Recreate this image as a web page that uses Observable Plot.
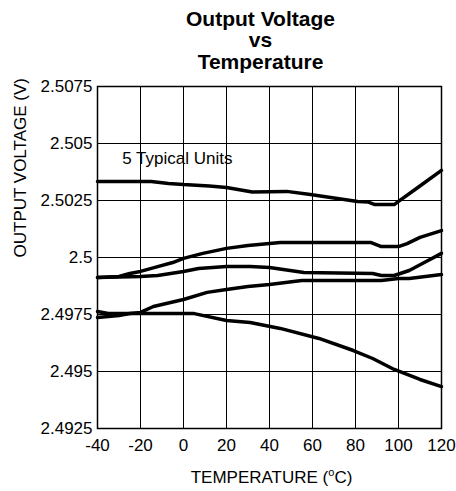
<!DOCTYPE html>
<html><head><meta charset="utf-8">
<script src="https://cdn.jsdelivr.net/npm/d3@7"></script>
<script src="https://cdn.jsdelivr.net/npm/@observablehq/plot@0.6"></script>
<style>html,body{margin:0;padding:0;background:#fff;} svg{display:block}</style>
</head><body><div id="chart"></div>
<script>
const titleText = "Output Voltage\nvs\nTemperature";
const xLabel = "TEMPERATURE (oC)";
const yLabel = "OUTPUT VOLTAGE (V)";
const noteText = "5 Typical Units";
const noteTemp = -28.5;
const noteVolt = 2.50408;

const xTicks = [-40, -20, 0, 20, 40, 60, 80, 100, 120];
const xTickLabels = ["-40", "-20", "0", "20", "40", "60", "80", "100", "120"];
const yTicks = [2.4925, 2.495, 2.4975, 2.5, 2.5025, 2.505, 2.5075];
const yTickLabels = ["2.4925", "2.495", "2.4975", "2.5", "2.5025", "2.505", "2.5075"];

const unitATemps = [-40, -15, -7, 0, 12, 20, 32, 48, 59, 81, 86, 89, 98, 100, 109, 120];
const unitAVolts = [2.50333, 2.50333, 2.50325, 2.5032, 2.50314, 2.50307, 2.50287, 2.5029, 2.50276, 2.50246, 2.50243, 2.50232, 2.50232, 2.50246, 2.50307, 2.50382];

const unitBTemps = [-40, -30, -25, -20, -12, -5, 0, 9, 20, 30, 45, 87, 92, 100, 104, 110, 120];
const unitBVolts = [2.49912, 2.49917, 2.4993, 2.49939, 2.4996, 2.49978, 2.49996, 2.50018, 2.5004, 2.50053, 2.50066, 2.50066, 2.50048, 2.50048, 2.50061, 2.50088, 2.50118];

const unitCTemps = [-40, -20, -12, 0, 7, 20, 31, 40, 56, 88, 92, 98, 105, 112, 120];
const unitCVolts = [2.49912, 2.49917, 2.49921, 2.49939, 2.49952, 2.49961, 2.49961, 2.49956, 2.49934, 2.4993, 2.49921, 2.49921, 2.49943, 2.49978, 2.50018];

const unitDTemps = [-40, -30, -25, -20, -14, 0, 11, 20, 30, 40, 55, 92, 100, 105, 120];
const unitDVolts = [2.49737, 2.49746, 2.49754, 2.49759, 2.49785, 2.49816, 2.49847, 2.4986, 2.49873, 2.49882, 2.49899, 2.49899, 2.49908, 2.49908, 2.49925];

const unitETemps = [-40, -35, -30, -20, 5, 20, 31, 45, 63, 79, 88, 98, 110, 120];
const unitEVolts = [2.49763, 2.49754, 2.49754, 2.49754, 2.49754, 2.49724, 2.49715, 2.49689, 2.49645, 2.49592, 2.49557, 2.49509, 2.49465, 2.49434];

const units = [
  {name: "A", t: unitATemps, v: unitAVolts},
  {name: "B", t: unitBTemps, v: unitBVolts},
  {name: "C", t: unitCTemps, v: unitCVolts},
  {name: "D", t: unitDTemps, v: unitDVolts},
  {name: "E", t: unitETemps, v: unitEVolts}
];
const rows = units.flatMap(u => u.t.map((t, j) => ({unit: u.name, temp: t, volt: u.v[j]})));

const chart = Plot.plot({
  width: 456,
  height: 491,
  marginLeft: 97,
  marginRight: 15,
  marginTop: 86,
  marginBottom: 63,
  style: {fontFamily: "'Liberation Sans', Arial, sans-serif", fontSize: "17px", color: "#000", background: "#fff"},
  x: {domain: [-40, 120]},
  y: {domain: [2.4925, 2.5075]},
  marks: [
    Plot.gridX(xTicks, {stroke: "#000", strokeOpacity: 1, strokeWidth: 1}),
    Plot.gridY(yTicks, {stroke: "#000", strokeOpacity: 1, strokeWidth: 1}),
    Plot.frame({stroke: "#000", strokeWidth: 1.5}),
    Plot.axisX(xTicks, {tickSize: 0, tickPadding: 10, tickFormat: d => xTickLabels[xTicks.indexOf(d)], label: null}),
    Plot.axisY(yTicks, {tickSize: 0, tickPadding: 5, tickFormat: d => yTickLabels[yTicks.indexOf(d)], label: null}),
    Plot.line(rows, {x: "temp", y: "volt", z: "unit", stroke: "#000", strokeWidth: 3.5, strokeLinejoin: "round"}),
    Plot.text([{label: noteText, temp: noteTemp, volt: noteVolt}], {x: "temp", y: "volt", text: "label", textAnchor: "start", lineAnchor: "bottom", fontSize: 17}),
    Plot.text([titleText], {frameAnchor: "top", dx: -9, dy: -18, lineAnchor: "bottom", fontWeight: "bold", fontSize: 21, lineHeight: 1.024}),
    Plot.text([yLabel], {frameAnchor: "left", rotate: -90, dx: -72, lineAnchor: "bottom", fontSize: 17}),
    Plot.text([xLabel], {frameAnchor: "bottom", dx: 2, dy: 54, lineAnchor: "bottom", fontSize: 17})
  ]
});

d3.select(chart).selectAll("text").filter(function() { return this.textContent === xLabel; }).each(function() {
  const t = d3.select(this);
  t.text(null);
  t.append("tspan").text("TEMPERATURE (");
  t.append("tspan").attr("font-size", 11).attr("dy", -7).text("o");
  t.append("tspan").attr("font-size", 17).attr("dy", 7).text("C)");
});

document.getElementById("chart").appendChild(chart);
</script>
</body></html>
